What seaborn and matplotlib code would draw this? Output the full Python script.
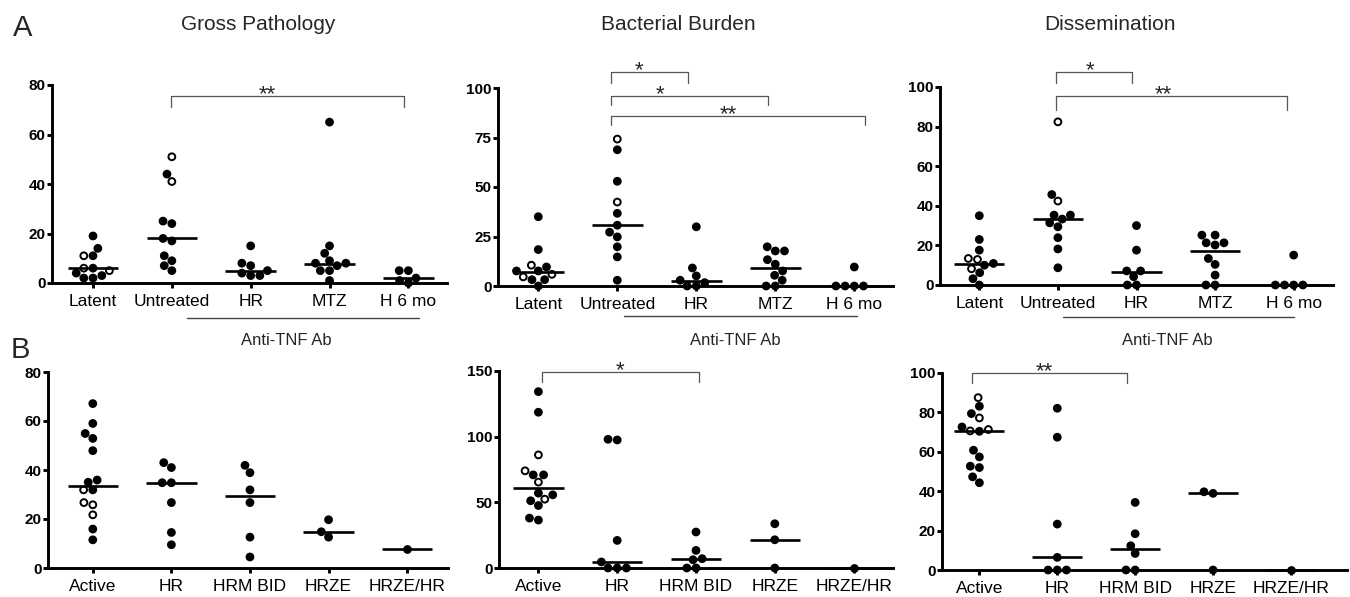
import numpy as np
import pandas as pd
import matplotlib
matplotlib.use("Agg")
import matplotlib.pyplot as plt
import seaborn as sns

# categories
groups_a = ["Latent", "Untreated", "HR", "MTZ", "H 6 mo"]
groups_b = ["Active", "HR", "HRM BID", "HRZE", "HRZE/HR"]
titles = ["Gross Pathology", "Bacterial Burden", "Dissemination"]

# row A - filled dots, open dots and median line per group
gross_a_filled = [[19, 11, 14, 6, 3, 2, 2, 4], [44, 25, 24, 17, 18, 9, 11, 5, 7],
                  [15, 7, 8, 4, 3, 3, 5], [65, 15, 12, 9, 8, 7, 8, 5, 5, 1], [5, 5, 2, 1, 0]]
gross_a_open = [[11, 6, 5], [51, 41], [], [], []]
gross_a_median = [6, 18, 5, 7.5, 2]

bact_a_filled = [[35, 18.4, 7.6, 7.6, 9.6, 3.2, 3.2, 0],
                 [68.8, 52.9, 36.7, 30.7, 27.2, 24.8, 19.8, 14.7, 2.9],
                 [29.9, 9.1, 5.1, 1.7, 0, 0, 2.9],
                 [19.8, 17.7, 17.7, 13.3, 11, 7.6, 5.4, 2.9, 0, 0], [9.6, 0, 0, 0, 0]]
bact_a_open = [[10.5, 5.9, 4.6], [74.2, 42.4], [], [], []]
bact_a_median = [7.1, 30.7, 2.7, 9.1, 0]

diss_a_filled = [[35, 23, 17.6, 10, 10.9, 6.2, 3.2, 0],
                 [45.7, 35.3, 35.3, 33.3, 29.4, 31.4, 23.9, 18.2, 8.7],
                 [30, 17.6, 7.1, 7.1, 4.2, 0, 0],
                 [25.2, 25.2, 21.3, 20.2, 21.3, 13.4, 10.4, 5, 0, 0], [15.1, 0, 0, 0, 0]]
diss_a_open = [[12.9, 13.4, 8.2], [82.4, 42.4], [], [], []]
diss_a_median = [10.8, 33.3, 6.4, 17.3, 0]

# row B
gross_b_filled = [[67.1, 59, 54.9, 52.9, 47.9, 35.9, 35, 31.9, 15.9, 11.5],
                  [43, 41, 34.8, 34.8, 26.7, 14.5, 9.5],
                  [41.9, 38.9, 31.9, 26.7, 12.6, 4.5], [19.7, 12.6, 14.8], [7.7]]
gross_b_open = [[31.9, 26.7, 25.8, 21.7], [], [], [], []]
gross_b_median = [33.6, 34.8, 29.4, 14.8, 7.7]

bact_b_filled = [[134.3, 118.6, 70.9, 70.9, 55.7, 57, 51.2, 47.6, 36.5, 38],
                 [97.5, 98, 21, 4.6, 0, 0, 0], [27.4, 13.4, 6.3, 7.1, 0, 0], [33.7, 21.5, 0], [0]]
bact_b_open = [[86.1, 74, 65.4, 52.4], [], [], [], []]
bact_b_median = [61.1, 4.8, 7.1, 21.5, 0]

diss_b_filled = [[83.1, 79.4, 72.6, 70.4, 60.8, 57.4, 52.7, 52, 47.3, 44.3],
                 [82.1, 67.4, 23.3, 6.4, 0, 0, 0], [34.3, 18.4, 12.3, 8.4, 0, 0], [39.7, 38.9, 0], [0]]
diss_b_open = [[87.5, 77.2, 70.6, 71.3], [], [], [], []]
diss_b_median = [70.4, 6.4, 10.5, 38.9, 0]

# y ticks
yticks_gross_a = [0, 20, 40, 60, 80]
yticks_bact_a = [0, 25, 50, 75, 100]
yticks_diss_a = [0, 20, 40, 60, 80, 100]
yticks_gross_b = [0, 20, 40, 60, 80]
yticks_bact_b = [0, 50, 100, 150]
yticks_diss_b = [0, 20, 40, 60, 80, 100]

# significance brackets: (x start, x end, y bar, y drop, star x, label)
brackets_gross_a = [(0.99, 3.94, 75.7, 71.2, 2.21, "**")]
brackets_bact_a = [(0.92, 1.89, 108.1, 102.5, 1.28, "*"),
                   (0.92, 2.91, 96.0, 91.4, 1.54, "*"),
                   (0.92, 4.13, 85.9, 81.2, 2.41, "**")]
brackets_diss_a = [(0.98, 1.94, 107.6, 101.9, 1.41, "*"),
                   (0.98, 3.92, 95.5, 88.4, 2.34, "**")]
brackets_gross_b = []
brackets_bact_b = [(0.05, 2.04, 149.2, 141.9, 1.04, "*")]
brackets_diss_b = [(-0.10, 1.90, 100, 94.9, 0.83, "**")]

sns.set_style("ticks")
plt.rcParams["font.family"] = ["Liberation Sans", "DejaVu Sans"]

W, H = 1350, 597
fig = plt.figure(figsize=(W / 100, H / 100), dpi=100)


def make_ax(l, r, t, b):
    return fig.add_axes([l / W, 1 - b / H, (r - l) / W, (b - t) / H])


def panel(ax, groups, filled, opened, med, yticks, xlim, brackets):
    rows = []
    for g, f, o in zip(groups, filled, opened):
        rows += [(g, v, "filled") for v in f]
        rows += [(g, v, "open") for v in o]
    df = pd.DataFrame(rows, columns=["group", "value", "kind"])
    sns.swarmplot(data=df, x="group", y="value", hue="kind", order=groups,
                  hue_order=["filled", "open"],
                  palette={"filled": "black", "open": "white"},
                  size=4.9, linewidth=1.4, edgecolor="black", legend=False, ax=ax)
    for c in ax.collections:
        c.set_clip_on(False)
        c.set_zorder(3)
    pos = np.arange(len(groups))
    ax.hlines(med, pos - 0.32, pos + 0.32, color="black", lw=1.9, zorder=4, clip_on=False)

    ax.set_ylim(yticks[0], yticks[-1])
    ax.set_yticks(yticks)
    ax.set_yticklabels([str(t) for t in yticks], fontweight="bold")
    ax.set_xlim(*xlim)
    ax.set_xlabel("")
    ax.set_ylabel("")
    sns.despine(ax=ax)
    for s in ["left", "bottom"]:
        ax.spines[s].set_linewidth(2.1)
        ax.spines[s].set_color("black")
    ax.tick_params(axis="y", length=3.6, width=2.1, pad=1, labelsize=11, colors="black")
    ax.tick_params(axis="x", length=3.6, width=2.1, pad=4, labelsize=12.5, colors="black")

    for x0, x1, yb, yd, xs, lab in brackets:
        ax.plot([x0, x0, x1, x1], [yd, yb, yb, yd], color="#555555", lw=0.9,
                clip_on=False, zorder=5)
        ax.annotate(lab, xy=(xs, yb), xytext=(0, -3), textcoords="offset points",
                    ha="center", va="baseline", fontsize=16, annotation_clip=False)


# row A
ax1 = make_ax(52, 447, 85, 283)
panel(ax1, groups_a, gross_a_filled, gross_a_open, gross_a_median, yticks_gross_a,
      (-0.52, 4.49), brackets_gross_a)
ax2 = make_ax(498, 893, 88, 286)
panel(ax2, groups_a, bact_a_filled, bact_a_open, bact_a_median, yticks_bact_a,
      (-0.51, 4.49), brackets_bact_a)
ax3 = make_ax(940, 1333, 87, 285)
panel(ax3, groups_a, diss_a_filled, diss_a_open, diss_a_median, yticks_diss_a,
      (-0.50, 4.50), brackets_diss_a)

# row B
ax4 = make_ax(48, 448, 372, 568)
panel(ax4, groups_b, gross_b_filled, gross_b_open, gross_b_median, yticks_gross_b,
      (-0.57, 4.52), brackets_gross_b)
ax5 = make_ax(499, 893, 371, 568)
panel(ax5, groups_b, bact_b_filled, bact_b_open, bact_b_median, yticks_bact_b,
      (-0.50, 4.50), brackets_bact_b)
ax6 = make_ax(942, 1347, 373, 570)
panel(ax6, groups_b, diss_b_filled, diss_b_open, diss_b_median, yticks_diss_b,
      (-0.48, 4.72), brackets_diss_b)

# Anti-TNF Ab underline under the treated groups of row A
for ax, (x0, x1, yl, xt, yt) in zip([ax1, ax2, ax3],
                                    [(1.19, 4.13, -0.177, 2.45, -0.288),
                                     (1.08, 4.04, -0.152, 2.49, -0.273),
                                     (1.06, 4.00, -0.162, 2.39, -0.278)]):
    tr = ax.get_xaxis_transform()
    ax.plot([x0, x1], [yl, yl], color="#444444", lw=1.0, transform=tr, clip_on=False)
    ax.text(xt, yt, "Anti-TNF Ab", transform=tr, ha="center", va="center", fontsize=12)

# titles and panel letters
for x, t in zip([258, 678, 1110], titles):
    fig.text(x / W, 1 - 25 / H, t, ha="center", va="center", fontsize=15)
fig.text(23 / W, 1 - 28 / H, "A", ha="center", va="center", fontsize=21)
fig.text(20 / W, 1 - 350 / H, "B", ha="center", va="center", fontsize=21)

fig.savefig("out.png", dpi=100)
